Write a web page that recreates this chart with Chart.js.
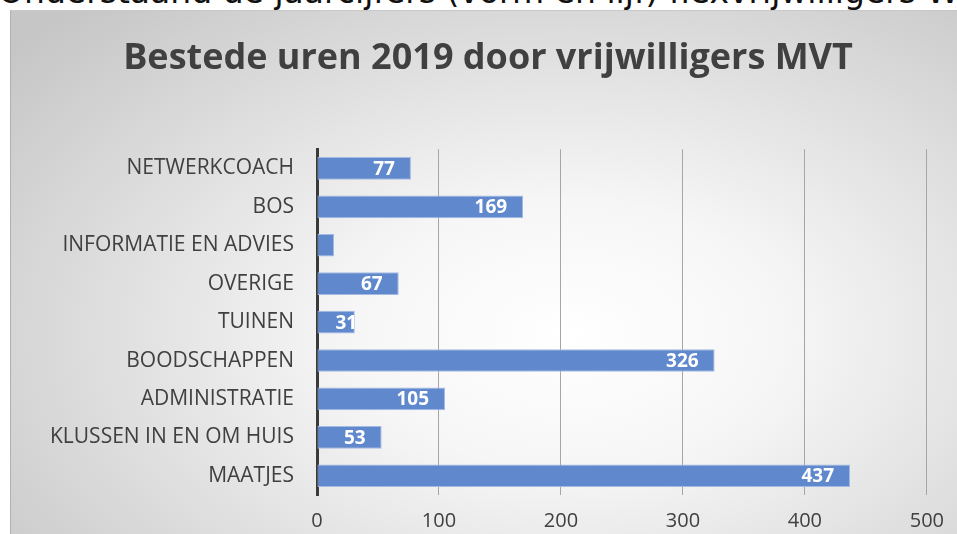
<!DOCTYPE html>
<html>
<head>
<meta charset="utf-8">
<script src="https://cdn.jsdelivr.net/npm/chart.js@4"></script>
<style>
  html, body { margin: 0; padding: 0; background: #fff; overflow: hidden; width: 957px; height: 534px; }
  #intro {
    position: absolute; left: -2px; top: -28px; white-space: nowrap;
    font-family: "DejaVu Sans", sans-serif; font-size: 33px; color: #111;
  }
  #box {
    position: absolute; left: 10px; top: 10px; width: 960px; height: 558px;
    border-left: 1px solid #b0b0b0; border-top: 1px solid #c8c8c8;
    background: radial-gradient(ellipse 75% 80% at 58% 58%, #ffffff 0%, #f6f6f6 30%, #dedede 65%, #c6c6c6 100%);
  }
</style>
</head>
<body>
<div id="intro">Onderstaand de jaarcijfers (vorm en lijf) flexvrijwilligers W</div>
<div id="box"><canvas id="chart" width="947" height="558"></canvas></div>
<script>
const categories = ['NETWERKCOACH', 'BOS', 'INFORMATIE EN ADVIES', 'OVERIGE', 'TUINEN',
                    'BOODSCHAPPEN', 'ADMINISTRATIE', 'KLUSSEN IN EN OM HUIS', 'MAATJES'];
const hours = [77, 169, 14, 67, 31, 326, 105, 53, 437];
const showLabel = [true, true, false, true, true, true, true, true, true];
const xTicks = [0, 100, 200, 300, 400, 500];

// white value labels at the inner end of each bar
const barLabels = {
  id: 'barLabels',
  afterDatasetsDraw(chart) {
    const ctx = chart.ctx;
    const meta = chart.getDatasetMeta(0);
    ctx.save();
    ctx.font = 'bold 19px "Open Sans", sans-serif';
    ctx.fillStyle = '#ffffff';
    ctx.textBaseline = 'middle';
    meta.data.forEach((bar, i) => {
      if (!showLabel[i]) return;
      const txt = String(hours[i]);
      const w = ctx.measureText(txt).width;
      let left = bar.x - 16 - w;
      if (left < bar.base + 18) left = bar.base + 18;
      ctx.fillText(txt, left, bar.y + 1);
    });
    ctx.restore();
  }
};

new Chart(document.getElementById('chart'), {
  type: 'bar',
  data: {
    labels: categories,
    datasets: [{
      data: hours,
      backgroundColor: '#6088cc',
      borderColor: '#a3bae3',
      borderWidth: 1,
      borderSkipped: false,
      categoryPercentage: 1,
      barPercentage: 0.59
    }]
  },
  options: {
    indexAxis: 'y',
    responsive: false,
    animation: false,
    layout: { padding: { left: 36, right: 29, top: 0, bottom: 22 } },
    plugins: {
      legend: { display: false },
      tooltip: { enabled: false },
      title: {
        display: true,
        text: 'Bestede uren 2019 door vrijwilligers MVT',
        color: '#404040',
        font: { family: '"Open Sans", sans-serif', size: 36, weight: 'bold', lineHeight: 1.2 },
        padding: { top: 26, bottom: 69 }
      }
    },
    scales: {
      x: {
        min: 0, max: 500,
        afterBuildTicks(scale) { scale.ticks = xTicks.map(v => ({ value: v })); },
        grid: { color: '#a6a6a6', lineWidth: 1, drawTicks: false },
        border: { display: false },
        ticks: { color: '#404040', padding: 14, font: { family: '"Open Sans", sans-serif', size: 20 } }
      },
      y: {
        afterFit(scale) { scale.width = 270; },
        grid: { display: false, drawTicks: false },
        border: { color: '#3a3a3a', width: 3 },
        ticks: { color: '#404040', padding: 23, font: { family: '"Open Sans", sans-serif', size: 21 } }
      }
    }
  },
  plugins: [barLabels]
});
</script>
</body>
</html>
